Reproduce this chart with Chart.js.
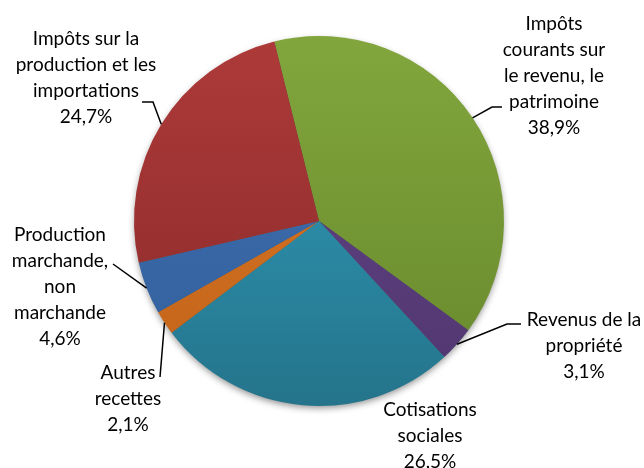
<!DOCTYPE html>
<html>
<head>
<meta charset="utf-8">
<script src="https://cdn.jsdelivr.net/npm/chart.js@4"></script>
<style>
  html, body { margin: 0; padding: 0; background: #fff; }
  #wrap { width: 644px; height: 468px; }
</style>
</head>
<body>
<div id="wrap"><canvas id="myChart" width="644" height="468"></canvas></div>
<script>
// Data
const categories = [
    "Impôts courants sur le revenu, le patrimoine",
    "Revenus de la propriété",
    "Cotisations sociales",
    "Autres recettes",
    "Production marchande, non marchande",
    "Impôts sur la production et les importations"
];
const shares = [38.9, 3.1, 26.5, 2.1, 4.6, 24.7];

// Label text, wrapped like the original
const labelLines = [
    ["Impôts", "courants sur", "le revenu, le", "patrimoine"],
    ["Revenus de la", "propriété"],
    ["Cotisations", "sociales"],
    ["Autres", "recettes"],
    ["Production", "marchande,", "non", "marchande"],
    ["Impôts sur la", "production et les", "importations"]
];

// slice colours: [top, bottom]
const sliceColors = [
    ["#82a63d", "#67882c"],
    ["#634689", "#503670"],
    ["#32a0bf", "#24748b"],
    ["#de7a24", "#c0621a"],
    ["#4172b6", "#325e99"],
    ["#ad3a39", "#8a2a2a"]
];

// where each label sits and how its leader bends (x, first baseline y, elbow points)
const labelLayout = [
    { x: 554, y: 30, leader: [[502, 107], [492, 107]] },
    { x: 584, y: 326, leader: [[521, 324], [507, 324]] },
    { x: 430, y: 416, leader: null },
    { x: 128, y: 379, leader: [[160, 377]] },
    { x: 60, y: 241, leader: [[113, 264]] },
    { x: 86, y: 45, leader: [[142, 102], [153, 102]] }
];

const fmt = (v) => v.toFixed(1).replace(".", ",") + "%";

const sliceFill = (ctx) => {
    const chart = ctx.chart;
    const area = chart.chartArea;
    if (!area) return sliceColors[ctx.dataIndex][0];
    const g = chart.ctx.createLinearGradient(0, area.top, 0, area.bottom);
    g.addColorStop(0, sliceColors[ctx.dataIndex][0]);
    g.addColorStop(1, sliceColors[ctx.dataIndex][1]);
    return g;
};

// soft shadow under the pie
const shadowPlugin = {
    id: "pieShadow",
    beforeDatasetsDraw(chart) {
        const arc = chart.getDatasetMeta(0).data[0];
        if (!arc) return;
        const c = chart.ctx;
        c.save();
        c.shadowColor = "rgba(0,0,0,0.45)";
        c.shadowBlur = 7;
        c.shadowOffsetY = 3;
        c.fillStyle = "#555";
        c.beginPath();
        c.arc(arc.x, arc.y, arc.outerRadius - 1, 0, Math.PI * 2);
        c.fill();
        c.restore();
    }
};

const labelPlugin = {
    id: "pieLabels",
    afterDatasetsDraw(chart) {
        const c = chart.ctx;
        const arcs = chart.getDatasetMeta(0).data;
        c.save();
        c.font = "19px Lato, 'Open Sans', sans-serif";
        c.fillStyle = "#000";
        c.textAlign = "center";
        c.textBaseline = "alphabetic";
        arcs.forEach((arc, i) => {
            const lay = labelLayout[i];
            const mid = (arc.startAngle + arc.endAngle) / 2;
            const ex = arc.x + Math.cos(mid) * arc.outerRadius;
            const ey = arc.y + Math.sin(mid) * arc.outerRadius;
            if (lay.leader) {
                c.strokeStyle = "#000";
                c.lineWidth = 1.5;
                c.beginPath();
                c.moveTo(lay.leader[0][0], lay.leader[0][1]);
                for (let k = 1; k < lay.leader.length; k++) c.lineTo(lay.leader[k][0], lay.leader[k][1]);
                c.lineTo(ex, ey);
                c.stroke();
            }
            const lines = labelLines[i].concat([fmt(shares[i])]);
            lines.forEach((t, k) => c.fillText(t, lay.x, lay.y + k * 26));
        });
        c.restore();
    }
};

const data = {
    labels: categories,
    datasets: [{
        data: shares,
        backgroundColor: sliceFill,
        borderWidth: 0
    }]
};

const config = {
    type: "pie",
    data: data,
    options: {
        responsive: false,
        animation: false,
        rotation: -14,
        layout: { padding: { top: 36, bottom: 62, left: 134, right: 140 } },
        plugins: {
            legend: { display: false },
            tooltip: { enabled: false }
        }
    },
    plugins: [shadowPlugin, labelPlugin]
};

const myChart = new Chart(document.getElementById("myChart"), config);
</script>
</body>
</html>
